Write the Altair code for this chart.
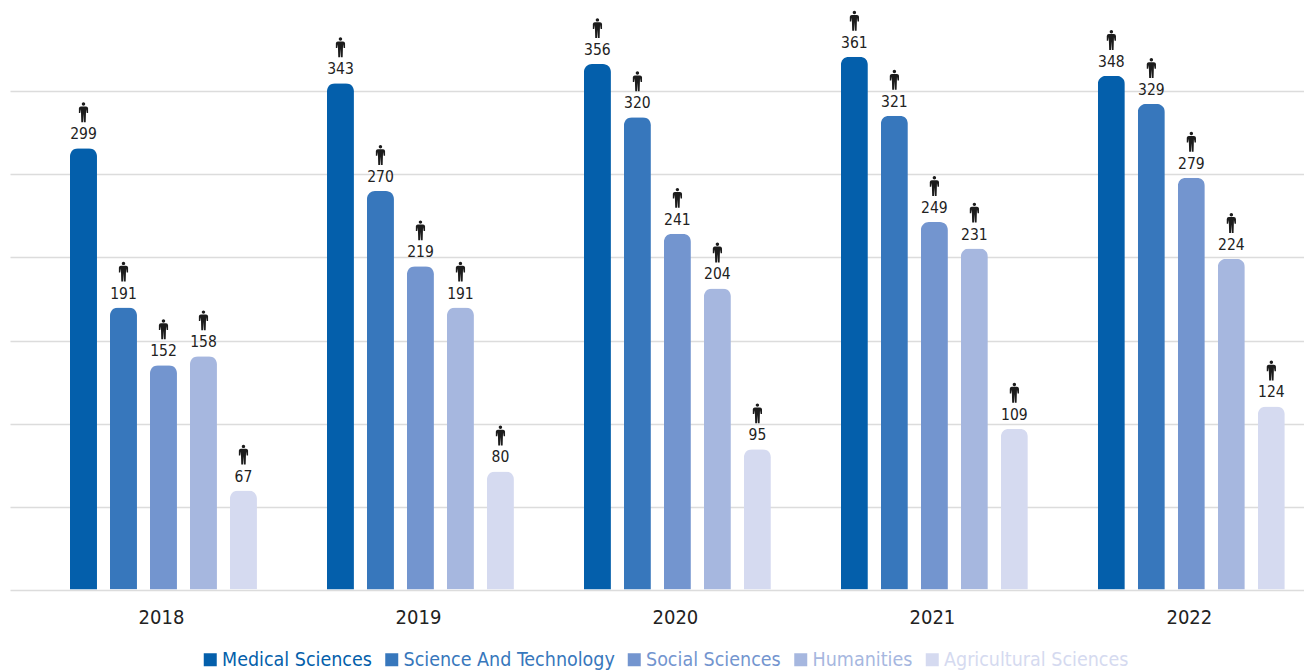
import altair as alt
import pandas as pd

YEARS = ["2018", "2019", "2020", "2021", "2022"]
CATEGORIES = ["Medical Sciences", "Science And Technology", "Social Sciences", "Humanities", "Agricultural Sciences"]
COLORS = ["#045fab", "#3777bc", "#7395cf", "#a6b7df", "#d5daf0"]
MEDICAL = [299, 343, 356, 361, 348]
SCIENCE = [191, 270, 320, 321, 329]
SOCIAL = [152, 219, 241, 249, 279]
HUMANITIES = [158, 191, 204, 231, 224]
AGRICULTURAL = [67, 80, 95, 109, 124]
GRID_TICKS = [0, 55.9, 112.1, 168.7, 225.3, 281.5, 337.7]
PERSON = ("M-.085,-.41a.085,.085 0 1,0 .17,0a.085,.085 0 1,0 -.17,0Z"
          "M-.13,-.29L.13,-.29Q.22,-.29 .23,-.2L.23,.04L.16,.04L.13,-.15L.11,.5L.02,.5L0,.08L-.02,.5L-.11,.5L-.13,-.15L-.16,.04L-.23,.04L-.23,-.2Q-.22,-.29 -.13,-.29Z")
FONT = "'DejaVu Sans Condensed', Roboto"

series = [MEDICAL, SCIENCE, SOCIAL, HUMANITIES, AGRICULTURAL]
df = pd.DataFrame([
    {"year": y, "category": c, "value": s[i]}
    for c, s in zip(CATEGORIES, series)
    for i, y in enumerate(YEARS)
])

color_expr = "{" + ",".join(f"'{c}':'{k}'" for c, k in zip(CATEGORIES, COLORS)) + "}[datum.label]"

x = alt.X("year:N", sort=YEARS, title=None,
          scale=alt.Scale(paddingInner=0.2724, paddingOuter=0.154, align=0.758),
          axis=alt.Axis(domain=False, ticks=False, labelAngle=0, labelFont=FONT, labelFontSize=20,
                        labelColor="#222222", labelPadding=18, labelOffset=-2, grid=False))
xo = alt.XOffset("category:N", sort=CATEGORIES,
                 scale=alt.Scale(paddingInner=0.325, paddingOuter=0))
y = alt.Y("value:Q", title=None,
          scale=alt.Scale(domain=[0, 394], nice=False),
          axis=alt.Axis(values=GRID_TICKS, labels=False, ticks=False, domain=False, grid=True,
                        gridColor="#dcdcdc", gridWidth=1.5))

base = alt.Chart(df)
bars = base.mark_bar(cornerRadiusTopLeft=8, cornerRadiusTopRight=8).encode(
    x=x, xOffset=xo, y=y,
    color=alt.Color("category:N", sort=CATEGORIES,
                    scale=alt.Scale(domain=CATEGORIES, range=COLORS),
                    legend=alt.Legend(title=None, orient="none", legendX=190.5, legendY=642,
                                      direction="horizontal", columns=5, gridAlign="none",
                                      symbolType="square", symbolSize=169, symbolStrokeWidth=0,
                                      labelFont=FONT, labelFontSize=19.5, labelLimit=400,
                                      labelColor=alt.expr(color_expr), columnPadding=9.5,
                                      labelOffset=2, padding=0)))
labels = base.mark_text(font=FONT, fontSize=15.5, color="#222222", dy=-14, baseline="middle").encode(
    x=x, xOffset=xo, y=y, text="value:Q")
icons = base.mark_point(shape=PERSON, filled=True, size=1600, color="#1c1c1c", opacity=1, yOffset=-36).encode(
    x=x, xOffset=xo, y=y)

chart = alt.layer(bars, labels, icons).properties(
    width=1294, height=581.5,
    padding={"left": 2, "top": 0, "right": 0, "bottom": 80},
    autosize=alt.AutoSizeParams(type="none"),
).configure_view(stroke=None)

chart.save("out.html", embed_options={"renderer": "svg", "actions": False})
